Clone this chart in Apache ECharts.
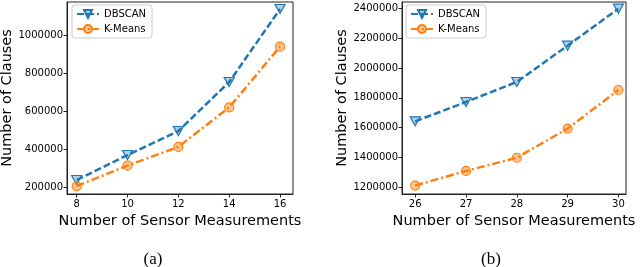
<!DOCTYPE html>
<html><head><meta charset="utf-8">
<script src="https://cdn.jsdelivr.net/npm/echarts@6/dist/echarts.min.js"></script>
<style>html,body{margin:0;padding:0;background:#fff}#c{width:640px;height:267px}</style>
</head><body><div id="c"></div>
<script>
const xA = [8, 10, 12, 14, 16];
const dbscanA = [237000, 369000, 496000, 755000, 1141000];
const kmeansA = [205000, 313000, 412000, 621000, 942000];
const yTicksA = [200000, 400000, 600000, 800000, 1000000];

const xB = [26, 27, 28, 29, 30];
const dbscanB = [1642000, 1772000, 1907000, 2151000, 2400000];
const kmeansB = [1210000, 1308000, 1397000, 1593000, 1853000];
const yTicksB = [1200000, 1400000, 1600000, 1800000, 2000000, 2200000, 2400000];

const BLUE = '#1f77b4', ORANGE = '#ff7f0e';
const FONT = 'DejaVu Sans';

function pair(xs, ys) { return xs.map((x, i) => [x, ys[i]]); }

function xAxis(idx, min, max, ticks) {
  return {
    type: 'value', gridIndex: idx, min, max,
    name: 'Number of Sensor Measurements', nameLocation: 'middle', nameGap: 16,
    nameTextStyle: { fontFamily: FONT, fontSize: 14.5, color: '#000', verticalAlign: 'top' },
    axisLine: { show: true, onZero: false, lineStyle: { color: '#222', width: 1 } },
    axisTick: { show: true, inside: false, length: 3.5, customValues: ticks, lineStyle: { color: '#222' } },
    axisLabel: { customValues: ticks, fontFamily: FONT, fontSize: 10, color: '#000', margin: 5, formatter: v => String(v) },
    splitLine: { show: false }
  };
}
function yAxis(idx, min, max, ticks) {
  return {
    type: 'value', gridIndex: idx, min, max,
    name: 'Number of Clauses', nameLocation: 'middle', nameGap: 52,
    nameTextStyle: { fontFamily: FONT, fontSize: 14.5, color: '#000' },
    axisLine: { show: true, onZero: false, lineStyle: { color: '#222', width: 1 } },
    axisTick: { show: true, inside: false, length: 3.5, customValues: ticks, lineStyle: { color: '#222' } },
    axisLabel: { customValues: ticks, fontFamily: FONT, fontSize: 10, color: '#000', margin: 4, formatter: v => String(v) },
    splitLine: { show: false }
  };
}
function series(name, idx, data, color, symbol, dash) {
  return {
    name, type: 'line', xAxisIndex: idx, yAxisIndex: idx, data,
    symbol, symbolSize: symbol === 'circle' ? 9 : [10, 9],
    lineStyle: { color, width: 2.5, type: dash },
    itemStyle: { color: color === BLUE ? 'rgba(31,119,180,0.35)' : 'rgba(255,127,14,0.45)', borderColor: color, borderWidth: 1.2 },
    emphasis: { disabled: true }, animation: false
  };
}
function legend(idx, left) {
  return {
    left, top: 5, orient: 'vertical', itemGap: 5, itemWidth: 22, itemHeight: 10,
    padding: [4, 6, 4, 4],
    borderColor: '#ccc', borderWidth: 1, borderRadius: 3, backgroundColor: '#fff',
    data: idx === 0 ? ['DBSCAN', 'K-Means'] : ['DBSCAN ', 'K-Means '],
    textStyle: { fontFamily: FONT, fontSize: 10, color: '#000' },
    formatter: n => n.trim()
  };
}
const chart = echarts.init(document.getElementById('c'), null, { renderer: 'canvas' });
const triDown = 'path://M0,0 L10,0 L5,9 Z';
chart.setOption({
  animation: false,
  grid: [
    { left: 67, top: 2, width: 226, height: 192, show: true, borderColor: '#222', borderWidth: 1, backgroundColor: 'transparent', outerBoundsMode: 'none', containLabel: false },
    { left: 402, top: 2, width: 224, height: 192, show: true, borderColor: '#222', borderWidth: 1, backgroundColor: 'transparent', outerBoundsMode: 'none', containLabel: false }
  ],
  title: [
    { text: '(a)', left: 148, top: 246, textAlign: 'center', textStyle: { fontFamily: 'Liberation Serif', fontSize: 17, fontWeight: 'normal', color: '#000' } },
    { text: '(b)', left: 486, top: 246, textAlign: 'center', textStyle: { fontFamily: 'Liberation Serif', fontSize: 17, fontWeight: 'normal', color: '#000' } }
  ],
  legend: [legend(0, 72), legend(1, 406)],
  xAxis: [xAxis(0, 7.62, 16.51, xA), xAxis(1, 25.74, 30.15, xB)],
  yAxis: [yAxis(0, 163000, 1178000, yTicksA), yAxis(1, 1153000, 2445000, yTicksB)],
  series: [
    series('DBSCAN', 0, pair(xA, dbscanA), BLUE, triDown, [7, 3]),
    series('K-Means', 0, pair(xA, kmeansA), ORANGE, 'circle', [8, 3, 2, 3]),
    series('DBSCAN ', 1, pair(xB, dbscanB), BLUE, triDown, [7, 3]),
    series('K-Means ', 1, pair(xB, kmeansB), ORANGE, 'circle', [8, 3, 2, 3])
  ]
});
</script></body></html>
